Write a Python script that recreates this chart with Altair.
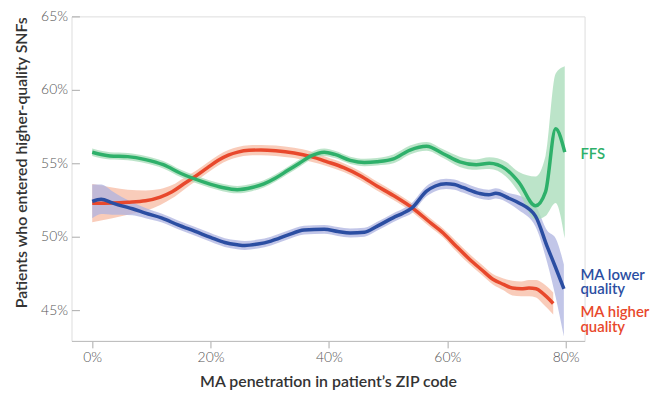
import altair as alt
import pandas as pd

# ---------------- data ----------------
ffs_x = [0, 3, 6, 9, 12, 15, 19, 22, 24.5, 27, 29, 31, 33, 35, 37, 39.2, 41, 43.6, 46, 48.1,
         50.9, 53.7, 56.5, 59.3, 62.1, 64.9, 67.1, 69.9, 72.1, 74.9, 76.6, 78.3, 79.85]
ffs_y = [55.75, 55.5, 55.45, 55.25, 54.9, 54.3, 53.7, 53.35, 53.2, 53.35, 53.6, 54.0, 54.5, 55.0,
         55.5, 55.75, 55.6, 55.2, 55.05, 55.1, 55.3, 55.9, 56.15, 55.65, 55.1, 54.9, 55.0, 54.6,
         53.7, 52.1, 53.05, 57.35, 55.76]
ffs_lo = [55.5, 55.25, 55.2, 55.0, 54.65, 54.05, 53.45, 53.1, 52.95, 53.1, 53.35, 53.75, 54.25,
          54.75, 55.25, 55.5, 55.35, 54.95, 54.8, 54.85, 55.0, 55.6, 55.85, 55.35, 54.75, 54.55,
          54.6, 54.1, 53.0, 51.15, 51.4, 52.3, 49.9]
ffs_hi = [56.0, 55.75, 55.7, 55.5, 55.15, 54.55, 53.95, 53.6, 53.45, 53.6, 53.85, 54.25, 54.75,
          55.25, 55.75, 56.0, 55.85, 55.45, 55.3, 55.35, 55.6, 56.2, 56.45, 55.95, 55.45, 55.25,
          55.4, 55.1, 54.4, 54.1, 55.5, 61.1, 61.6]

low_x = [0, 1.5, 3.4, 5, 6.8, 9, 11.8, 14.5, 17.4, 20, 22.4, 24.5, 25.8, 28, 30.2, 33, 35.8,
         39.2, 41.5, 43.6, 46, 48.1, 50.9, 52.5, 54, 56.5, 58, 59.8, 61.2, 62.6, 65.4, 67, 68.2,
         70.5, 72.1, 74.9, 76.9, 78.3, 79.7]
low_y = [52.4, 52.55, 52.3, 52.1, 51.9, 51.6, 51.26, 50.8, 50.36, 49.95, 49.6, 49.45, 49.4, 49.5,
         49.7, 50.1, 50.45, 50.5, 50.35, 50.25, 50.3, 50.7, 51.3, 51.6, 51.95, 53.1, 53.45, 53.6,
         53.55, 53.35, 52.95, 52.85, 52.95, 52.6, 52.3, 51.4, 49.3, 47.9, 46.45]
low_lo = [51.25, 51.55, 51.5, 51.5, 51.45, 51.25, 50.96, 50.5, 50.06, 49.65, 49.3, 49.15, 49.1,
          49.2, 49.4, 49.8, 50.15, 50.2, 50.05, 49.95, 50.0, 50.4, 51.0, 51.3, 51.6, 52.75, 53.1,
          53.25, 53.2, 53.0, 52.6, 52.5, 52.6, 52.25, 51.8, 50.7, 48.2, 45.9, 43.2]
low_hi = [53.55, 53.55, 53.1, 52.7, 52.35, 51.95, 51.56, 51.1, 50.66, 50.25, 49.9, 49.75, 49.7,
          49.8, 50.0, 50.4, 50.75, 50.8, 50.65, 50.55, 50.6, 51.0, 51.6, 51.9, 52.3, 53.45, 53.8,
          53.95, 53.9, 53.7, 53.3, 53.2, 53.3, 52.95, 52.8, 52.1, 50.4, 49.9, 48.1]

high_x = [0, 3.4, 6, 9, 11.5, 13.5, 15.5, 17.4, 19.5, 21.3, 23, 24.6, 26.5, 28.5, 31, 34.1, 37,
          39.7, 42.5, 45.3, 48.1, 50.9, 54.3, 57, 59.3, 61.5, 63.8, 65.8, 67.7, 69.5, 71.0, 72.5,
          73.8, 75, 76.1, 77.9]
high_y = [52.28, 52.3, 52.35, 52.45, 52.7, 53.06, 53.6, 54.1, 54.7, 55.2, 55.55, 55.76, 55.88,
          55.9, 55.85, 55.7, 55.45, 55.1, 54.7, 54.15, 53.45, 52.8, 51.9, 51.0, 50.25, 49.35,
          48.45, 47.75, 47.1, 46.75, 46.5, 46.45, 46.5, 46.45, 46.15, 45.45]
high_lo = [50.98, 51.25, 51.5, 51.75, 52.15, 52.61, 53.2, 53.75, 54.35, 54.85, 55.2, 55.41,
           55.53, 55.55, 55.5, 55.35, 55.1, 54.8, 54.4, 53.85, 53.15, 52.5, 51.6, 50.7, 49.95,
           49.0, 48.1, 47.4, 46.75, 46.35, 46.0, 45.95, 45.95, 45.85, 45.45, 44.7]
high_hi = [53.58, 53.35, 53.2, 53.15, 53.25, 53.51, 54.0, 54.45, 55.05, 55.55, 55.9, 56.11,
           56.23, 56.25, 56.2, 56.05, 55.8, 55.4, 55.0, 54.45, 53.75, 53.1, 52.2, 51.3, 50.55,
           49.7, 48.8, 48.1, 47.45, 47.15, 47.0, 46.95, 47.05, 47.05, 46.85, 46.2]

label_text = ["FFS", "MA lower", "quality", "MA higher", "quality"]
label_x = [82.5, 82.5, 82.5, 82.5, 82.5]
label_y = [55.6, 47.4, 46.4, 44.85, 43.85]
label_series = ["FFS", "MA lower quality", "MA lower quality", "MA higher quality", "MA higher quality"]

x_ticks = [0, 20, 40, 60, 80]
y_ticks = [45, 50, 55, 60, 65]

series = {
    "MA higher quality": (high_x, high_y, high_lo, high_hi, "#e8482c", "#f7bba3"),
    "MA lower quality": (low_x, low_y, low_lo, low_hi, "#2b4ea2", "#aeb3e0"),
    "FFS": (ffs_x, ffs_y, ffs_lo, ffs_hi, "#2eb06a", "#a6dbb7"),
}

FONT = "Lato"
xscale = alt.Scale(domain=[-3.5, 83.2], nice=False, zero=False)
yscale = alt.Scale(domain=[42.9, 65], nice=False, zero=False)

xaxis = alt.Axis(values=x_ticks, labelExpr="datum.value + '%'", title="MA penetration in patient’s ZIP code",
                 grid=False, domainColor="#bbbbbb", tickColor="#aaaaaa", tickSize=7,
                 labelFont=FONT, labelFontSize=14, labelFontWeight=300, labelColor="#555555",
                 labelPadding=3, titleFont=FONT, titleFontSize=16, titleFontWeight=600,
                 titleColor="#333333", titlePadding=9)
yaxis = alt.Axis(values=y_ticks, labelExpr="datum.value + '%'",
                 title="Patients who entered higher-quality SNFs",
                 grid=False, domain=False, tickColor="#aaaaaa", tickSize=8, offset=-8,
                 labelFont=FONT, labelFontSize=14, labelFontWeight=300, labelColor="#555555",
                 labelPadding=4, titleFont=FONT, titleFontSize=16, titleFontWeight=600,
                 titleColor="#333333", titleX=-50, titleY=147)

bands = []
lines = []
for name, (xs, ys, lo, hi, lc, bc) in series.items():
    df = pd.DataFrame({"x": xs, "y": ys, "lo": lo, "hi": hi})
    bands.append(
        alt.Chart(df).mark_area(color=bc, opacity=0.75, interpolate="monotone").encode(
            x=alt.X("x:Q", scale=xscale, axis=xaxis),
            y=alt.Y("lo:Q", scale=yscale, axis=yaxis),
            y2="hi:Q",
        )
    )
    lines.append(
        alt.Chart(df).mark_line(color=lc, strokeWidth=3.5, interpolate="monotone").encode(
            x=alt.X("x:Q", scale=xscale, axis=xaxis),
            y=alt.Y("y:Q", scale=yscale, axis=yaxis),
        )
    )

lab_df = pd.DataFrame({"t": label_text, "x": label_x, "y": label_y, "s": label_series})
labels = alt.Chart(lab_df).mark_text(align="left", baseline="middle", font=FONT, fontSize=15,
                                     fontWeight=600).encode(
    x=alt.X("x:Q", scale=xscale, axis=xaxis),
    y=alt.Y("y:Q", scale=yscale, axis=yaxis),
    text="t:N",
    color=alt.Color("s:N", legend=None,
                    scale=alt.Scale(domain=["FFS", "MA lower quality", "MA higher quality"],
                                    range=["#2eb06a", "#2b4ea2", "#e8482c"])),
)

chart = alt.layer(*bands, *lines, labels).properties(
    width=517, height=327,
    autosize=alt.AutoSizeParams(type="none"),
    padding={"left": 64, "top": 7, "right": 76, "bottom": 50},
).configure_view(stroke=None).configure(background="white")

chart.save("out.html", embed_options={"renderer": "svg", "actions": False})
